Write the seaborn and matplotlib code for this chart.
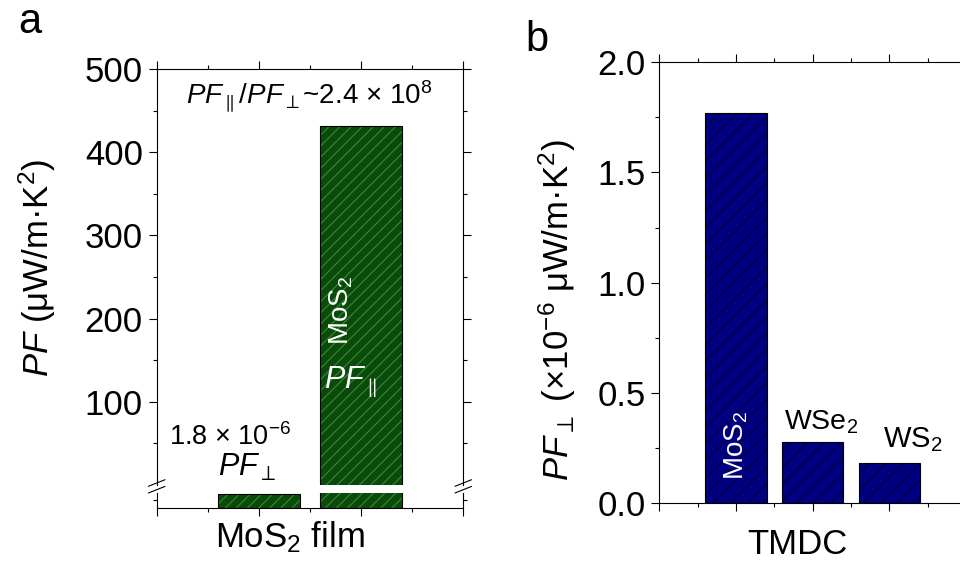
import matplotlib
matplotlib.use("Agg")
import matplotlib.pyplot as plt
from matplotlib.lines import Line2D
from matplotlib.patches import Rectangle
from matplotlib.ticker import FixedLocator, MultipleLocator, FormatStrFormatter
import seaborn as sns

# panel a: MoS2 film, cross-plane vs in-plane power factor (uW/m K^2)
film_pos = [1, 2]
film_names = ["PF_perp", "PF_par"]
film_pf = [1.8e-6, 432]

# panel b: cross-plane power factor of TMDC films (x1e-6 uW/m K^2)
tmdc_pos = [1, 2, 3]
tmdc_names = ["MoS2", "WSe2", "WS2"]
tmdc_pf = [1.77, 0.275, 0.18]

sns.set_style("ticks")
plt.rcParams["font.family"] = ["Liberation Sans", "DejaVu Sans"]
plt.rcParams["mathtext.fontset"] = "custom"
plt.rcParams["mathtext.rm"] = "Liberation Sans"
plt.rcParams["mathtext.it"] = "Liberation Sans:italic"
plt.rcParams["mathtext.bf"] = "Liberation Sans:bold"
plt.rcParams["hatch.linewidth"] = 0.8
plt.rcParams["axes.linewidth"] = 0.8
plt.rcParams["axes.edgecolor"] = "black"
plt.rcParams["text.color"] = "black"
plt.rcParams["xtick.color"] = "black"
plt.rcParams["ytick.color"] = "black"
plt.rcParams["xtick.labelcolor"] = "black"
plt.rcParams["ytick.labelcolor"] = "black"

W, H = 960, 562


def box(l, t, r, b):
    return [l / W, 1 - b / H, (r - l) / W, (b - t) / H]


def px(x, y):
    return x / W, 1 - y / H


def hatched_bars(ax, x, y, face, hatch_col, hatch, hide_small=None):
    sns.barplot(x=x, y=y, native_scale=True, width=0.8, color=face,
                saturation=1, errorbar=None, ax=ax)
    for p in list(ax.patches):
        p.set_edgecolor(hatch_col)
        p.set_hatch(hatch)
        p.set_linewidth(0)
        if hide_small is not None and p.get_height() < hide_small:
            p.set_visible(False)
            continue
        ax.add_patch(Rectangle(p.get_xy(), p.get_width(), p.get_height(),
                               fill=False, ec="black", lw=0.8))


def ticks_style(ax):
    ax.tick_params(which="major", direction="out", length=6, width=0.8,
                   labelsize=25, pad=4, color="black", labelcolor="black")
    ax.tick_params(which="minor", direction="out", length=3, width=0.8,
                   color="black")


fig = plt.figure(figsize=(9.6, 5.62), dpi=100)

# ---- panel a, broken axis ----
ax_top = fig.add_axes(box(156.7, 69, 463.3, 485))
ax_bot = fig.add_axes(box(156.7, 493.3, 463.3, 507.7))

green = "#0b4a0b"
green_hatch = "#2f8f2f"
hatched_bars(ax_top, film_pos, film_pf, green, green_hatch, "///", hide_small=1)
hatched_bars(ax_bot, film_pos, film_pf, green, green_hatch, "///")

ax_top.set_ylim(0, 500)
ax_top.set_xlim(0, 3)
ax_top.yaxis.set_major_locator(FixedLocator([100, 200, 300, 400, 500]))
ax_top.yaxis.set_minor_locator(FixedLocator([50, 150, 250, 350, 450]))
ax_top.xaxis.set_major_locator(MultipleLocator(1))
ax_top.xaxis.set_minor_locator(MultipleLocator(0.5))
ticks_style(ax_top)
ax_top.tick_params(which="both", left=True, right=True, top=True, bottom=False,
                   labelbottom=False, labelright=False)
ax_top.spines["bottom"].set_visible(False)
ax_top.set_xlabel("")
ax_top.set_ylabel("")

ax_bot.set_ylim(0, 1.85e-6)
ax_bot.set_xlim(0, 3)
ax_bot.yaxis.set_major_locator(FixedLocator([]))
ax_bot.yaxis.set_minor_locator(FixedLocator([1e-6]))
ax_bot.xaxis.set_major_locator(MultipleLocator(1))
ax_bot.xaxis.set_minor_locator(MultipleLocator(0.5))
ticks_style(ax_bot)
ax_bot.tick_params(which="both", left=True, right=True, top=False, bottom=True,
                   labelbottom=False, labelleft=False)
ax_bot.spines["top"].set_visible(False)
ax_bot.set_xlabel("")
ax_bot.set_ylabel("")

# break marks
for xs in (156.7, 463.3):
    for dy in (0, 6.7):
        x0, y0 = px(xs - 8.3, 489.6 + dy - 3.3)
        x1, y1 = px(xs + 8.3, 483.0 + dy - 3.3)
        fig.add_artist(Line2D([x0, x1], [y0, y1], color="black", lw=0.8))

fig.text(*px(30, 22), "a", fontsize=30, ha="center", va="center")
fig.text(*px(37, 268), r"$PF$ (μW/m·K$^2$)", fontsize=25, rotation=90,
         ha="center", va="center")
fig.text(*px(290, 537), r"MoS$_2$ film", fontsize=25, ha="center", va="center")
fig.text(*px(309, 97), r"$PF_{\parallel}/PF_{\perp}$~2.4 × 10$^{8}$",
         fontsize=20, ha="center", va="center")
fig.text(*px(230, 437), r"1.8 × 10$^{-6}$", fontsize=19.5, ha="center", va="center")
fig.text(*px(247, 467), r"$PF_{\perp}$", fontsize=22, ha="center", va="center")
fig.text(*px(341, 310), r"MoS$_2$", fontsize=20, rotation=90, color="white",
         ha="center", va="center")
fig.text(*px(350, 382), r"$PF_{\parallel}$", fontsize=22, color="white",
         ha="center", va="center")

# ---- panel b ----
ax_b = fig.add_axes(box(659.3, 62.3, 966, 503))
hatched_bars(ax_b, tmdc_pos, tmdc_pf, "#000080", "#00003a", "//")
ax_b.set_xlim(0, 4)
ax_b.set_ylim(0, 2.0)
ax_b.yaxis.set_major_locator(MultipleLocator(0.5))
ax_b.yaxis.set_minor_locator(MultipleLocator(0.25))
ax_b.yaxis.set_major_formatter(FormatStrFormatter("%.1f"))
ax_b.xaxis.set_major_locator(MultipleLocator(1))
ax_b.xaxis.set_minor_locator(MultipleLocator(0.5))
ticks_style(ax_b)
ax_b.tick_params(which="both", left=True, right=True, top=True, bottom=True,
                 labelbottom=False, labelright=False)
ax_b.set_xlabel("")
ax_b.set_ylabel("")

fig.text(*px(537, 40), "b", fontsize=30, ha="center", va="center")
fig.text(*px(557, 310), r"$PF_{\perp}$ (×10$^{-6}$ μW/m·K$^{2}$)", fontsize=25,
         rotation=90, ha="center", va="center")
fig.text(*px(797, 545), "TMDC", fontsize=25, ha="center", va="center")
fig.text(*px(736, 445), r"MoS$_2$", fontsize=20, rotation=90, color="white",
         ha="center", va="center")
fig.text(*px(821, 422), r"WSe$_2$", fontsize=20.5, ha="center", va="center")
fig.text(*px(913, 440), r"WS$_2$", fontsize=21, ha="center", va="center")

fig.savefig("out.png", dpi=100)
